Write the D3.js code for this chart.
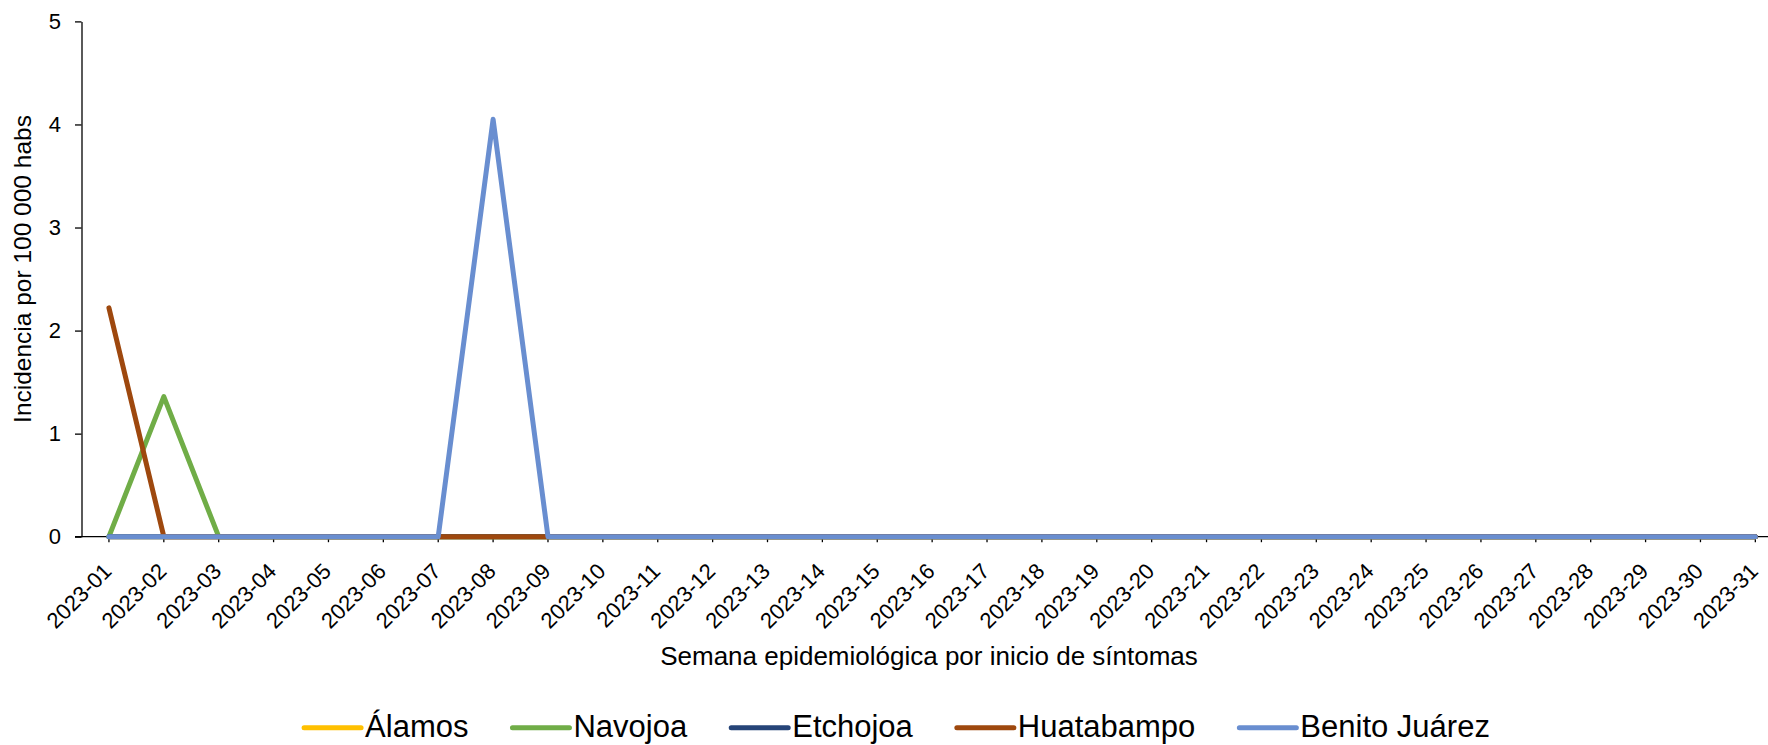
<!DOCTYPE html>
<html>
<head>
<meta charset="utf-8">
<script src="https://cdn.jsdelivr.net/npm/d3@7"></script>
<style>
  html, body { margin: 0; padding: 0; background: #ffffff; }
  svg { display: block; }
  text { font-family: "Liberation Sans", Arial, sans-serif; fill: #000; }
</style>
</head>
<body>
<svg id="chart" width="1768" height="745"></svg>
<script>
// ---- Data ----
const weeks = ["2023-01","2023-02","2023-03","2023-04","2023-05","2023-06","2023-07","2023-08","2023-09","2023-10",
  "2023-11","2023-12","2023-13","2023-14","2023-15","2023-16","2023-17","2023-18","2023-19","2023-20",
  "2023-21","2023-22","2023-23","2023-24","2023-25","2023-26","2023-27","2023-28","2023-29","2023-30","2023-31"];
const alamos      = [0,0,0,0,0,0,0,0,0,0,0,0,0,0,0,0,0,0,0,0,0,0,0,0,0,0,0,0,0,0,0];
const navojoa     = [0,1.36,0,0,0,0,0,0,0,0,0,0,0,0,0,0,0,0,0,0,0,0,0,0,0,0,0,0,0,0,0];
const etchojoa    = [0,0,0,0,0,0,0,0,0,0,0,0,0,0,0,0,0,0,0,0,0,0,0,0,0,0,0,0,0,0,0];
const huatabampo  = [2.22,0,0,0,0,0,0,0,0,0,0,0,0,0,0,0,0,0,0,0,0,0,0,0,0,0,0,0,0,0,0];
const benitoJuarez= [0,0,0,0,0,0,0,4.05,0,0,0,0,0,0,0,0,0,0,0,0,0,0,0,0,0,0,0,0,0,0,0];
const seriesNames = ["Álamos","Navojoa","Etchojoa","Huatabampo","Benito Juárez"];
const seriesValues = [alamos, navojoa, etchojoa, huatabampo, benitoJuarez];
const seriesColors = ["#FFC000","#70AD47","#264478","#9E480E","#698ED0"];
const yTicks = [0,1,2,3,4,5];
const yTitle = "Incidencia por 100 000 habs";
const xTitle = "Semana epidemiológica por inicio de síntomas";

// ---- Layout ----
const svg = d3.select("#chart");
const plotLeft = 81.5, plotTop = 21.4, plotBottom = 536.7;
const bandW = 54.88;
const plotRight = plotLeft + bandW * weeks.length;

const x = d3.scaleBand().domain(weeks).range([plotLeft, plotRight]).paddingInner(0).paddingOuter(0);
const xc = d => x(d) + x.bandwidth() / 2;
const y = d3.scaleLinear().domain([0, 5]).range([plotBottom, plotTop]);

// Y axis
const yAxis = svg.append("g").attr("transform", `translate(${plotLeft},0)`)
  .call(d3.axisLeft(y).tickValues(yTicks).tickFormat(d3.format("d")).tickSize(6.5).tickPadding(14).tickSizeOuter(0));
yAxis.select(".domain").attr("stroke", "#000").attr("stroke-width", 1.3);
yAxis.selectAll(".tick line").attr("stroke", "#000").attr("stroke-width", 1.3);
yAxis.selectAll(".tick text").attr("font-size", 22).attr("font-family", "Liberation Sans, Arial, sans-serif").attr("fill", "#000");

// X axis (ticks at category centres)
const xAxis = svg.append("g").attr("transform", `translate(0,${plotBottom})`)
  .call(d3.axisBottom(x).tickSize(5.5).tickSizeOuter(0).tickPadding(0));
xAxis.select(".domain").attr("d", `M${plotLeft - 6.5},0H${plotRight}`).attr("stroke", "#000").attr("stroke-width", 1.3);
xAxis.selectAll(".tick line").attr("stroke", "#000").attr("stroke-width", 1.3);
xAxis.selectAll(".tick text")
  .attr("y", null).attr("dy", null)
  .attr("transform", "translate(4,36) rotate(-45)")
  .attr("text-anchor", "end")
  .attr("font-size", 22)
  .attr("font-family", "Liberation Sans, Arial, sans-serif")
  .attr("fill", "#000");

// Lines
const line = d3.line().x((d, i) => xc(weeks[i])).y(d => y(d));
svg.append("g").selectAll("path").data(seriesValues).join("path")
  .attr("d", d => line(d))
  .attr("fill", "none")
  .attr("stroke", (d, i) => seriesColors[i])
  .attr("stroke-width", 5)
  .attr("stroke-linejoin", "round")
  .attr("stroke-linecap", "round");

// Axis titles
svg.append("text")
  .attr("transform", `translate(31,269) rotate(-90)`)
  .attr("text-anchor", "middle")
  .attr("font-size", 24.5)
  .text(yTitle);
svg.append("text")
  .attr("x", 929).attr("y", 665)
  .attr("text-anchor", "middle")
  .attr("font-size", 26)
  .text(xTitle);

// Legend
const legend = svg.append("g");
const legFont = 31, lineLen = 57, lineGap = 4, itemGap = 44;
const items = legend.selectAll("g").data(seriesNames).join("g");
items.append("line").attr("x1", 0).attr("x2", lineLen).attr("y1", 727.7).attr("y2", 727.7)
  .attr("stroke", (d, i) => seriesColors[i]).attr("stroke-width", 5).attr("stroke-linecap", "round");
items.append("text").attr("x", lineLen + lineGap).attr("y", 737).attr("font-size", legFont).text(d => d);
let widths = [];
items.each(function() { widths.push(this.querySelector("text").getComputedTextLength() + lineLen + lineGap); });
const total = d3.sum(widths) + itemGap * (widths.length - 1);
let cx = 897 - total / 2;
items.attr("transform", (d, i) => { const t = `translate(${cx},0)`; cx += widths[i] + itemGap; return t; });
</script>
</body>
</html>
